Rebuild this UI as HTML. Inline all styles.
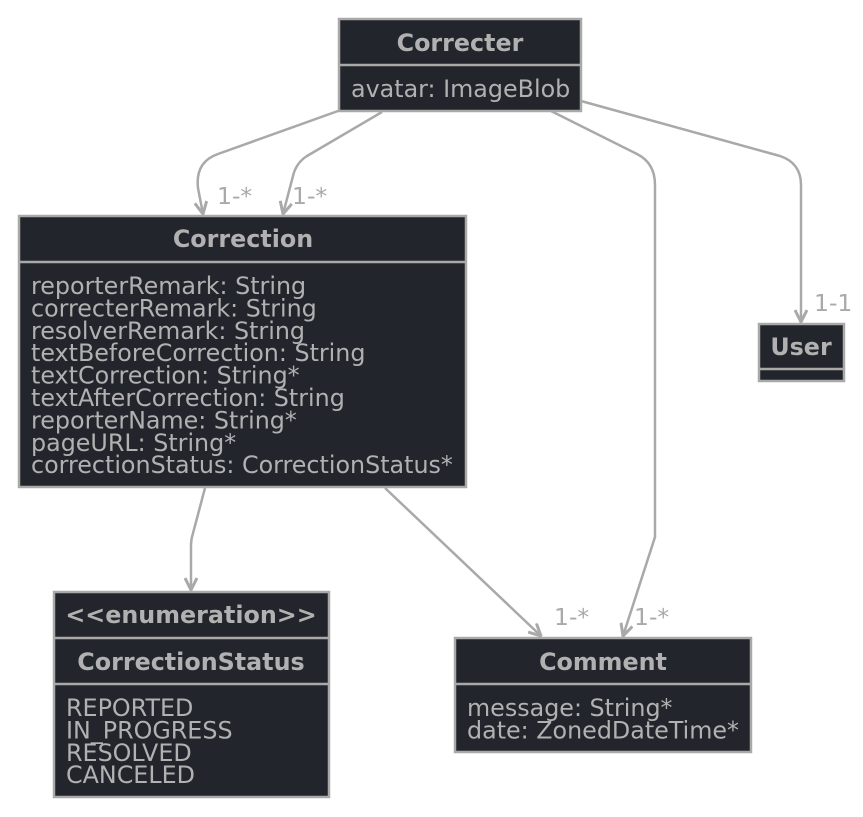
<!DOCTYPE html>
<html><head><meta charset="utf-8"><style>
html,body{margin:0;padding:0;background:#fff;width:863px;height:817px;overflow:hidden}
svg{display:block}
text{font-family:"DejaVu Sans","Liberation Sans",sans-serif;fill:#b1b1b1;font-size:23.8px}
.t{font-weight:bold;text-anchor:middle}
.l{fill:#a9a9a9;font-size:23.5px}
.b{fill:#22252b;stroke:#a9a9a9;stroke-width:2.5}
.d{stroke:#a9a9a9;stroke-width:2.5}
.e{fill:none;stroke:#a9a9a9;stroke-width:2.5}
</style></head><body>
<svg width="863" height="817" viewBox="0 0 863 817" xmlns="http://www.w3.org/2000/svg">
<defs>
<marker id="a" viewBox="0 0 14 14" refX="13" refY="7" markerWidth="14" markerHeight="14" markerUnits="userSpaceOnUse" orient="auto">
<path d="M1,1 L13,7 L1,13" fill="none" stroke="#a9a9a9" stroke-width="3"/>
</marker>
</defs>
<path class="e" marker-end="url(#a)" d="M338,111 L218,154 Q195,162 198,188 L203,214"/>
<path class="e" marker-end="url(#a)" d="M382,112 L307,156 Q296,163 293,176 L283,214"/>
<path class="e" marker-end="url(#a)" d="M551,111 L637,154 Q655,163 655,185 L655,537 L623,636"/>
<path class="e" marker-end="url(#a)" d="M581,101 L780,156 Q801,163 801,185 L801,322"/>
<path class="e" marker-end="url(#a)" d="M205,488 L192,537 Q191,541 191,547 L191,590"/>
<path class="e" marker-end="url(#a)" d="M385,488 L541,636"/>
<text class="l" x="217" y="204">1-*</text>
<text class="l" x="292" y="204">1-*</text>
<text class="l" x="814" y="311">1-1</text>
<text class="l" x="554" y="625">1-*</text>
<text class="l" x="634" y="625">1-*</text>
<rect class="b" x="339" y="19" width="242" height="92"/>
<line class="d" x1="339" y1="65" x2="581" y2="65"/>
<text class="t" x="460" y="51">Correcter</text>
<text x="351" y="97">avatar: ImageBlob</text>
<rect class="b" x="19" y="216" width="447" height="271"/>
<line class="d" x1="19" y1="262" x2="466" y2="262"/>
<text class="t" x="243" y="247">Correction</text>
<text x="31" y="294">reporterRemark: String</text>
<text x="31" y="316.4">correcterRemark: String</text>
<text x="31" y="338.8">resolverRemark: String</text>
<text x="31" y="361.2">textBeforeCorrection: String</text>
<text x="31" y="383.6">textCorrection: String*</text>
<text x="31" y="406">textAfterCorrection: String</text>
<text x="31" y="428.4">reporterName: String*</text>
<text x="31" y="450.8">pageURL: String*</text>
<text x="31" y="473.2">correctionStatus: CorrectionStatus*</text>
<rect class="b" x="759" y="324" width="85" height="57"/>
<line class="d" x1="759" y1="369" x2="844" y2="369"/>
<text class="t" x="801" y="355">User</text>
<rect class="b" x="54" y="592" width="275" height="205"/>
<line class="d" x1="54" y1="638" x2="329" y2="638"/>
<line class="d" x1="54" y1="684" x2="329" y2="684"/>
<text class="t" x="191" y="623">&lt;&lt;enumeration&gt;&gt;</text>
<text class="t" x="191" y="670">CorrectionStatus</text>
<text x="66" y="716">REPORTED</text>
<text x="66" y="738.4">IN_PROGRESS</text>
<text x="66" y="760.8">RESOLVED</text>
<text x="66" y="783.2">CANCELED</text>
<rect class="b" x="455" y="638" width="296" height="114"/>
<line class="d" x1="455" y1="684" x2="751" y2="684"/>
<text class="t" x="603" y="670">Comment</text>
<text x="467" y="716">message: String*</text>
<text x="467" y="738.4">date: ZonedDateTime*</text>
</svg>
</body></html>
